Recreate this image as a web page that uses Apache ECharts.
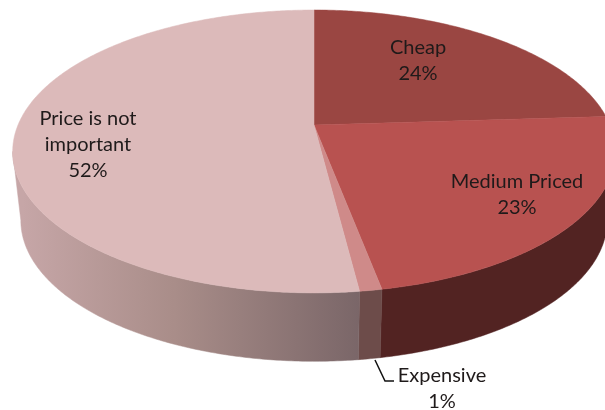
<!DOCTYPE html>
<html>
<head>
<meta charset="utf-8">
<style>html,body{margin:0;padding:0;background:#fff}#chart{width:605px;height:410px}</style>
<script src="https://cdn.jsdelivr.net/npm/echarts@6/dist/echarts.min.js"></script>
</head>
<body>
<div id="chart"></div>
<script>
// Share of respondents by price preference, clockwise from twelve o'clock.
var categories = ['Cheap', 'Medium Priced', 'Expensive', 'Price is not important'];
var shares = [24, 23, 1, 52];

var faceColors = ['#9a4642', '#b85250', '#cf8a89', '#dcbaba'];
var wallColors = ['#6e302d', '#522322', '#6d4c4a', null];
var priceWallStops = [
  { offset: 0, color: '#c6a6a7' },
  { offset: 0.45, color: '#a98d89' },
  { offset: 1, color: '#7a6668' }
];

// Label anchors: centre x and first-line y, with the wrap used for each category.
var labelAnchors = [[418, 48], [517, 182], [442, 376], [88, 119]];
var labelWraps = ['Cheap', 'Medium Priced', 'Expensive', 'Price is not\nimportant'];

// Tilted disc drawn with a simple perspective divide.
var apexX = 314, apexY = 125, persp = 0.187;
var upperRim = { a: 296, b: 136.5, y: apexY };
var lowerRim = { a: 288, b: 136, y: 194 };
var rightLimit = Math.acos(-persp), leftLimit = 2 * Math.PI - rightLimit;

function rimPoint(rim, t) {
  var d = 1 + persp * Math.cos(t);
  return [apexX + rim.a * Math.sin(t) / d, rim.y - rim.b * Math.cos(t) / d];
}
function sweep(rim, from, to) {
  var pts = [], n = Math.max(2, Math.ceil(Math.abs(to - from) / 0.01));
  for (var i = 0; i <= n; i++) pts.push(rimPoint(rim, from + (to - from) * i / n));
  return pts;
}
var total = shares.reduce(function (a, b) { return a + b; }, 0);
function sliceRange(idx) {
  var before = 0;
  for (var i = 0; i < idx; i++) before += shares[i];
  return [before / total * 2 * Math.PI, (before + shares[idx]) / total * 2 * Math.PI];
}

function renderWall(params) {
  var r = sliceRange(params.dataIndex);
  var from = Math.max(r[0], rightLimit), to = Math.min(r[1], leftLimit);
  if (to <= from) return { type: 'group', children: [] };
  var pts = sweep(upperRim, from, to).concat(sweep(lowerRim, to, from));
  var fill = wallColors[params.dataIndex] || {
    type: 'linear', x: 22, y: 0, x2: 360, y2: 0, global: true, colorStops: priceWallStops
  };
  return {
    type: 'polygon',
    shape: { points: pts },
    style: { fill: fill, stroke: fill, lineWidth: 0.5 }
  };
}

function renderFace(params) {
  var i = params.dataIndex, r = sliceRange(i);
  var pts = [[apexX, apexY]].concat(sweep(upperRim, r[0], r[1]));
  return {
    type: 'polygon',
    shape: { points: pts },
    style: { fill: faceColors[i], stroke: faceColors[i], lineWidth: 0.5 }
  };
}

function renderLabel(params) {
  var i = params.dataIndex;
  var text = labelWraps[i] + '\n' + shares[i] + '%';
  return {
    type: 'group',
    children: [{
      type: 'text',
      style: {
        x: labelAnchors[i][0], y: labelAnchors[i][1] - 13,
        text: text, fill: '#1f1a1a', align: 'center', verticalAlign: 'top',
        font: '20px Lato, "Open Sans", sans-serif', lineHeight: 26
      }
    }].concat(categories[i] === 'Expensive' ? [{
      // Leader line from the narrow slice out to its label.
      type: 'polyline',
      shape: { points: [[375, 360], [385, 381], [394, 381]] },
      style: { stroke: '#111', lineWidth: 1.5, fill: null }
    }] : [])
  };
}

var rows = categories.map(function (name, i) { return { name: name, value: shares[i] }; });
var chart = echarts.init(document.getElementById('chart'), null, { renderer: 'canvas' });
chart.setOption({
  animation: false,
  backgroundColor: '#ffffff',
  series: [
    { type: 'custom', coordinateSystem: 'none', z: 1, renderItem: renderWall, data: rows, silent: true },
    { type: 'custom', coordinateSystem: 'none', z: 2, renderItem: renderFace, data: rows, silent: true },
    { type: 'custom', coordinateSystem: 'none', z: 3, renderItem: renderLabel, data: rows, silent: true }
  ]
});
</script>
</body>
</html>
